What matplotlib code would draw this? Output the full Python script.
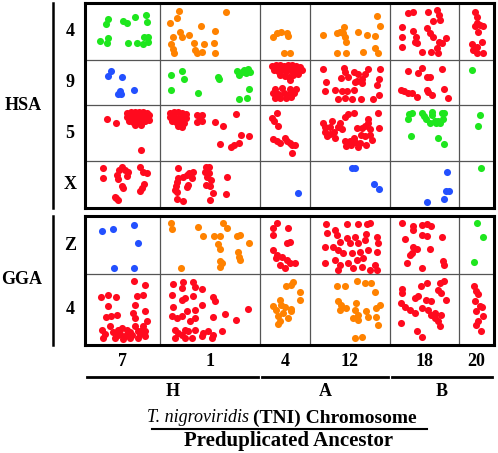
import matplotlib
matplotlib.use("Agg")
import matplotlib.pyplot as plt
from matplotlib.transforms import blended_transform_factory
import numpy as np

plt.rcParams['font.family'] = ['Liberation Serif', 'DejaVu Serif']

# chromosome order and (relative) map sizes
tni_labels = ['7', '1', '4', '12', '18', '20']
tni_sizes = [75, 100, 50, 80, 69, 35]
hsa_labels = ['4', '9', '5', 'X']
hsa_sizes = [57, 45, 56, 47]
gga_labels = ['Z', '4']
gga_sizes = [58, 71]
anc_labels = ['H', 'A', 'B']
anc_cols = [(0, 2), (2, 4), (4, 6)]

# positions of orthologous genes in each cell: (TNI position, HSA/GGA position)
hsa4_t7 = [(23,16),(21,21),(15,38),(23,35),(22,40),(38,18),(42,20),(50,14),(61,12),(62,19),
           (43,40),(52,40),(58,41),(59,34),(63,34),(63,39)]
hsa4_t1 = [(19,8),(17,15),(10,20),(20,29),(22,34),(13,34),(29,32),(41,23),(55,28),(66,9),
           (11,41),(13,46),(14,50),(34,40),(35,47),(37,50),(42,49),(44,41),(54,40),(55,50)]
hsa4_t4 = [(13,34),(17,30),(21,29),(27,30),(28,33),(24,50),(30,50)]
hsa4_t12 = [(13,32),(27,30),(30,29),(34,24),(33,30),(35,34),(36,39),(48,29),(57,32),(65,33),
            (67,13),(70,23),(27,50),(36,50),(53,49),(65,45),(68,50)]
hsa4_t18 = [(18,10),(23,9),(38,9),(47,7),(49,12),(43,18),(50,17),(12,24),(23,28),(37,25),
            (12,34),(26,34),(27,40),(40,30),(43,34),(56,35),(49,39),(12,44),(32,49),(41,49),
            (47,45),(48,50),(52,40),(25,39)]
hsa4_t20 = [(16,9),(18,14),(18,20),(16,23),(21,22),(24,23),(19,29),(23,39),(18,44),(14,47),
            (18,50),(24,50),(13,41)]

hsa9_t7 = [(23,16),(26,11),(37,17),(33,34),(36,34),(35,31),(49,30)]
hsa9_t1 = [(11,15),(22,11),(24,19),(11,30),(38,33),(58,17),(59,19),(77,11),(82,12),(88,9),
           (86,13),(79,15),(89,29),(79,39),(87,38),(84,10),(90,12)]
hsa9_t4 = [(12,6),(16,5),(20,5),(24,6),(28,5),(32,5),(36,6),(40,7),(14,10),(18,11),(22,10),
           (26,11),(30,10),(34,10),(38,10),(42,10),(20,15),(25,16),(29,17),(33,15),(38,14),
           (30,20),(15,29),(22,28),(30,29),(36,29),(13,33),(18,34),(24,33),(29,34),(34,33),
           (15,38),(20,38),(26,38),(31,37)]
hsa9_t12 = [(13,9),(16,22),(15,31),(34,8),(35,12),(31,18),(38,17),(44,12),(48,14),(47,21),
            (52,19),(55,14),(58,9),(70,9),(69,19),(67,25),(25,30),(32,31),(37,31),(44,30),
            (28,39),(35,38),(42,39),(51,39),(63,39),(69,35),(52,23),(45,22)]
hsa9_t18 = [(18,11),(28,13),(32,8),(37,17),(40,17),(52,9),(11,30),(14,31),(18,33),(22,33),
            (27,37),(37,30),(38,32),(42,35),(54,29),(58,38)]
hsa9_t20 = [(13,10)]

hsa5_t7 = [(22,14),(31,18),(42,8),(46,7),(50,7),(54,7),(58,7),(62,8),(42,12),(46,12),(50,12),
           (54,12),(58,12),(62,12),(64,10),(44,16),(48,17),(52,17),(56,16),(60,16),(64,15),
           (50,20),(56,20),(56,45)]
hsa5_t1 = [(10,8),(14,7),(18,7),(22,8),(26,9),(10,12),(14,12),(18,13),(22,12),(26,13),(12,16),
           (16,17),(20,17),(24,18),(18,21),(22,22),(37,10),(42,10),(37,17),(42,16),(40,14),
           (55,17),(63,21),(76,9),(81,30),(89,31),(60,39),(71,42),(74,40),(79,38)]
hsa5_t4 = [(17,8),(12,13),(14,16),(18,21),(13,34),(17,36),(20,38),(25,33),(27,36),(30,38),
           (32,40),(35,40),(32,48)]
hsa5_t12 = [(13,18),(22,16),(35,12),(38,9),(44,8),(58,14),(68,8),(69,23),(15,27),(17,31),
            (20,29),(24,27),(25,33),(35,36),(36,41),(38,38),(44,33),(47,23),(52,23),(55,21),
            (58,18),(60,24),(51,30),(55,31),(50,38),(45,37),(41,40),(30,18),(32,24),(28,22),
            (60,30),(62,35),(56,40),(48,42),(40,36),(15,22),(20,22)]
hsa5_t18 = [(19,9),(22,8),(18,14),(32,8),(34,11),(36,14),(42,7),(42,10),(45,16),(48,16),
            (52,8),(54,8),(53,14),(21,31),(48,33),(54,39),(40,18),(46,18),(50,18)]
hsa5_t20 = [(21,10),(19,21)]

hsax_t7 = [(18,7),(18,17),(32,14),(34,9),(37,6),(40,9),(43,11),(42,15),(33,18),(37,25),
           (38,27),(30,36),(33,39),(31,37),(55,6),(58,11),(62,12),(59,23),(57,27),(55,30)]
hsax_t1 = [(18,7),(18,17),(17,21),(16,25),(15,29),(17,31),(23,16),(27,14),(29,12),(33,11),
           (32,17),(28,24),(27,26),(46,6),(49,6),(45,11),(49,12),(47,16),(51,19),(46,24),
           (50,25),(53,32),(50,39),(67,16),(66,33),(17,38),(23,40)]
hsax_t4 = [(38,32)]
hsax_t12 = [(42,7),(45,7),(64,23),(69,28)]
hsax_t18 = [(57,11),(56,30),(59,30),(54,38),(37,41)]
hsax_t20 = [(22,7)]

ggaz_t7 = [(17,15),(28,13),(49,9),(53,27),(29,52),(49,52)]
ggaz_t1 = [(11,7),(12,13),(38,11),(43,20),(54,20),(60,20),(58,28),(60,33),(63,7),(67,12),
           (77,20),(80,19),(89,27),(78,36),(79,41),(80,44),(60,45),(62,47),(60,51),(21,52)]
ggaz_t4 = [(17,7),(13,12),(13,19),(28,12),(30,26),(27,27),(13,34),(17,39),(22,41),(27,44),
           (30,47),(35,47),(25,52),(20,49),(16,42)]
ggaz_t12 = [(16,8),(37,8),(48,8),(57,8),(60,7),(17,17),(25,14),(27,19),(37,22),(45,21),(56,18),
            (30,26),(40,27),(48,27),(55,24),(67,21),(68,27),(67,36),(15,31),(23,31),(28,34),
            (33,37),(42,37),(50,36),(58,34),(15,47),(25,44),(30,49),(38,47),(47,44),(53,42),
            (52,51),(65,49),(67,54),(28,54),(43,52),(60,54)]
ggaz_t18 = [(12,7),(23,10),(23,14),(32,9),(37,8),(41,10),(32,19),(37,20),(52,21),(15,23),
            (23,31),(27,33),(22,37),(20,39),(40,33),(17,47),(32,52),(53,45),(54,49)]
ggaz_t20 = [(18,7),(24,21),(15,46)]

gga4_t7 = [(49,7),(60,11),(16,23),(23,21),(31,23),(52,22),(58,21),(23,32),(50,31),(60,37),
           (21,43),(26,42),(32,41),(48,39),(50,44),(62,47),(25,52),(17,56),(18,64),(33,56),
           (37,54),(42,56),(33,61),(40,62),(47,61),(53,57),(57,56),(60,57),(60,62),(53,64),
           (45,64),(38,65),(30,64),(50,52),(58,52),(42,61),(35,60),(45,58),(55,60),(28,58),(20,60)]
gga4_t1 = [(13,10),(23,8),(33,8),(35,13),(42,15),(22,14),(12,21),(22,26),(25,24),(33,22),
           (53,23),(55,27),(42,31),(13,33),(27,37),(35,36),(12,42),(17,44),(22,42),(30,47),
           (35,44),(53,43),(65,40),(76,46),(88,35),(62,57),(15,56),(18,59),(25,56),(28,57),
           (35,56),(43,59),(48,57),(53,61),(15,64),(25,64),(32,64),(42,62),(52,64),(22,61)]
gga4_t4 = [(26,12),(31,11),(33,8),(40,18),(40,26),(20,26),(13,32),(16,36),(21,31),(25,33),
           (31,35),(31,37),(18,42),(20,47),(18,50),(28,44),(23,39)]
gga4_t12 = [(27,12),(35,12),(47,7),(55,9),(61,9),(65,18),(28,27),(31,31),(30,36),(36,34),
            (46,29),(45,36),(48,41),(43,44),(48,46),(56,37),(58,43),(66,34),(70,31),(66,43),
            (68,51),(45,64),(52,63)]
gga4_t18 = [(12,15),(12,19),(31,12),(37,9),(50,9),(54,7),(25,24),(28,22),(36,26),(41,27),
            (48,16),(51,19),(56,26),(11,29),(15,33),(20,36),(25,39),(32,34),(38,36),(41,41),
            (45,44),(48,47),(50,52),(45,39),(51,41),(11,49),(27,57),(32,63)]
gga4_t20 = [(15,12),(17,17),(19,20),(16,27),(21,32),(23,33),(17,37),(24,42),(19,47),(17,51),(22,57)]

# colour code per cell: g green, o orange, b blue, r red
hsa_codes = ['gooorr', 'bgrrrg', 'rrrrgg', 'rrbbbg']
gga_codes = ['borrrg', 'rroorr']

hsa_cells = [[hsa4_t7, hsa4_t1, hsa4_t4, hsa4_t12, hsa4_t18, hsa4_t20],
             [hsa9_t7, hsa9_t1, hsa9_t4, hsa9_t12, hsa9_t18, hsa9_t20],
             [hsa5_t7, hsa5_t1, hsa5_t4, hsa5_t12, hsa5_t18, hsa5_t20],
             [hsax_t7, hsax_t1, hsax_t4, hsax_t12, hsax_t18, hsax_t20]]
gga_cells = [[ggaz_t7, ggaz_t1, ggaz_t4, ggaz_t12, ggaz_t18, ggaz_t20],
             [gga4_t7, gga4_t1, gga4_t4, gga4_t12, gga4_t18, gga4_t20]]

palette = {'g': '#1ee61e', 'o': '#ff8200', 'b': '#2350ff', 'r': '#ff0a1e'}

W, H = 498, 453
fig = plt.figure(figsize=(W / 100, H / 100), dpi=100)


def fx(px):
    return px / W


def fy(py):
    return 1 - py / H


col_off = np.concatenate([[0], np.cumsum(tni_sizes)])


def draw_panel(ax, row_sizes, cells, codes, row_labels):
    row_off = np.concatenate([[0], np.cumsum(row_sizes)])
    for i, row in enumerate(cells):
        for j, pts in enumerate(row):
            a = np.array(pts, dtype=float)
            ax.scatter(col_off[j] + a[:, 0], row_off[i] + a[:, 1], s=26,
                       color=palette[codes[i][j]], linewidths=0, zorder=3)
    for x in col_off[1:-1]:
        ax.axvline(x, color='#555555', lw=0.9, zorder=1)
    for y in row_off[1:-1]:
        ax.axhline(y, color='#555555', lw=0.9, zorder=1)
    ax.set_xlim(0, col_off[-1])
    ax.set_ylim(row_off[-1], 0)
    ax.set_xticks([])
    ax.set_yticks([])
    for sp in ax.spines.values():
        sp.set_linewidth(2.2)
    tr = blended_transform_factory(fig.transFigure, ax.transData)
    for i, lab in enumerate(row_labels):
        fig.text(fx(70), (row_off[i] + row_off[i + 1]) / 2, lab, transform=tr,
                 ha='center', va='center', fontsize=13, fontweight='bold')


ax_top = fig.add_axes([fx(85), fy(208), fx(409), 205 / H])
ax_bot = fig.add_axes([fx(85), fy(345), fx(409), 129 / H])
draw_panel(ax_top, hsa_sizes, hsa_cells, hsa_codes, hsa_labels)
draw_panel(ax_bot, gga_sizes, gga_cells, gga_codes, gga_labels)

# species labels with vertical bars
fig.text(fx(23), fy(106), 'HSA', ha='center', va='center', fontsize=13, fontweight='bold')
fig.text(fx(22), fy(279), 'GGA', ha='center', va='center', fontsize=13, fontweight='bold')
fig.add_artist(plt.Line2D([fx(53), fx(53)], [fy(3), fy(208)], color='black', lw=1.8))
fig.add_artist(plt.Line2D([fx(53), fx(53)], [fy(216), fy(345)], color='black', lw=1.8))

# TNI chromosome labels and ancestor brackets
trb = blended_transform_factory(ax_bot.transData, fig.transFigure)
for j, lab in enumerate(tni_labels):
    fig.text((col_off[j] + col_off[j + 1]) / 2, fy(362), lab, transform=trb,
             ha='center', va='center', fontsize=13, fontweight='bold')
for lab, (c0, c1) in zip(anc_labels, anc_cols):
    line = plt.Line2D([col_off[c0] + 2, col_off[c1] - 2], [fy(377), fy(377)],
                      transform=trb, color='black', lw=2)
    fig.add_artist(line)
    fig.text((col_off[c0] + col_off[c1]) / 2, fy(392), lab, transform=trb,
             ha='center', va='center', fontsize=13, fontweight='bold')

fig.text(fx(249), fy(418), 'T. nigroviridis', ha='right', va='center', fontsize=13,
         fontstyle='italic')
fig.text(fx(253), fy(418), '(TNI) Chromosome', ha='left', va='center', fontsize=14,
         fontweight='bold')
fig.add_artist(plt.Line2D([fx(152), fx(427)], [fy(429), fy(429)], color='black', lw=1.5))
fig.text(fx(289), fy(441), 'Preduplicated Ancestor', ha='center', va='center',
         fontsize=15, fontweight='bold')

fig.savefig('out.png', dpi=100)
